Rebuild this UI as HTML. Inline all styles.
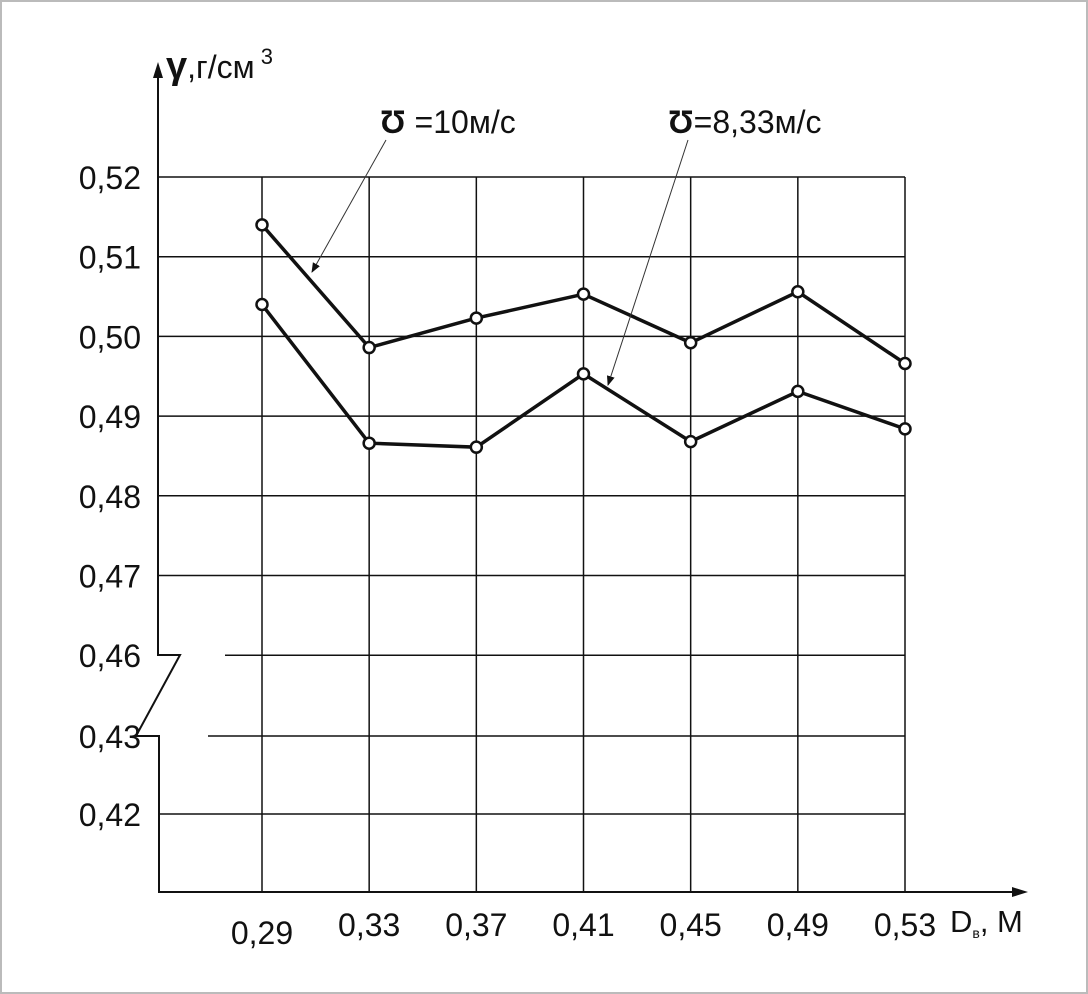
<!DOCTYPE html>
<html><head><meta charset="utf-8"><style>
html,body{margin:0;padding:0;background:#fff}
svg{display:block}
text{font-family:"Liberation Sans",sans-serif;fill:#111}
</style></head><body>
<svg width="1088" height="994" viewBox="0 0 1088 994">
<rect x="1" y="1" width="1086" height="992" fill="#fff" stroke="#bbb" stroke-width="2"/>
<defs><marker id="ah" markerWidth="10" markerHeight="10" refX="9" refY="5" orient="auto"><path d="M0,1 L10,5 L0,9 Z" fill="#111"/></marker></defs>
<g id="grid"></g>
<g id="axes">
<path d="M158,70 L158,655 L180,655 L136,736 L159,736 L159,892 L1022,892" fill="none" stroke="#111" stroke-width="2"/>
<path d="M153,78 L158,62 L163,78 Z" fill="#111"/>
<path d="M1012,887 L1028,892 L1012,897 Z" fill="#111"/>
<text x="166" y="78" font-size="32"><tspan font-weight="bold" font-size="38">γ</tspan>,г/см<tspan font-size="22" dy="-14"> 3</tspan></text>
<text x="950" y="932" font-size="31">D<tspan font-size="14" dy="6">в</tspan><tspan dy="-6">, М</tspan></text>
</g>
<g id="labels"></g>
<g id="series"></g>
<g>
<text x="380" y="133" font-size="32"><tspan font-weight="bold">Ʊ</tspan> =10м/с</text>
<line x1="386" y1="140" x2="312" y2="272" stroke="#333" stroke-width="1" marker-end="url(#ah)"/>
<text x="668" y="133" font-size="32"><tspan font-weight="bold">Ʊ</tspan>=8,33м/с</text>
<line x1="688" y1="140" x2="608" y2="385" stroke="#333" stroke-width="1" marker-end="url(#ah)"/>
</g>
</svg>
<script>
const categories=["0,29","0,33","0,37","0,41","0,45","0,49","0,53"];
const series10=[0.5140,0.4986,0.5023,0.5053,0.4992,0.5056,0.4966];
const series833=[0.5040,0.4866,0.4861,0.4953,0.4868,0.4931,0.4884];
const yTicks=[0.52,0.51,0.50,0.49,0.48,0.47,0.46,0.43,0.42];
const yTickLabels=["0,52","0,51","0,50","0,49","0,48","0,47","0,46","0,43","0,42"];
const NS="http://www.w3.org/2000/svg";
function xs(i){return 262+i*(905-262)/(categories.length-1);}
function ys(v){if(v>=0.455)return 177+(0.52-v)*7970;return 736+(0.43-v)*7800;}
function mk(tag,attrs,parent){const e=document.createElementNS(NS,tag);for(const k in attrs)e.setAttribute(k,attrs[k]);parent.appendChild(e);return e;}
const grid=document.getElementById('grid'),labels=document.getElementById('labels'),ser=document.getElementById('series');
yTicks.forEach((v,i)=>{
 const y=ys(v);let x0=158;if(v===0.46)x0=225;if(v===0.43)x0=208;
 const l=mk('line',{x1:x0,x2:905,y1:y,y2:y,stroke:'#111','stroke-width':1.5},grid);
 
 
 const t=mk('text',{x:141,y:y+12,'font-size':32,'text-anchor':'end'},labels);
 
 
 t.textContent=yTickLabels[i];
});
categories.forEach((c,i)=>{
 const x=xs(i);
 const l=mk('line',{x1:x,x2:x,y1:177,y2:892,stroke:'#111','stroke-width':1.5},grid);
 
 
 const t=mk('text',{x:x,y:i===0?944:936,'font-size':32,'text-anchor':'middle'},labels);
 
 
 t.textContent=c;
});
function draw(data,name){
 const p=mk('polyline',{points:data.map((v,i)=>xs(i)+','+ys(v)).join(' '),fill:'none',stroke:'#111','stroke-width':3.5},ser);
 
 
 data.forEach((v,i)=>{
  const c=mk('circle',{cx:xs(i),cy:ys(v),r:5.5,fill:'#fff',stroke:'#111','stroke-width':2.5},ser);
  
  
 });
}
draw(series10,'series-10ms');
draw(series833,'series-833ms');
</script>
</body></html>
